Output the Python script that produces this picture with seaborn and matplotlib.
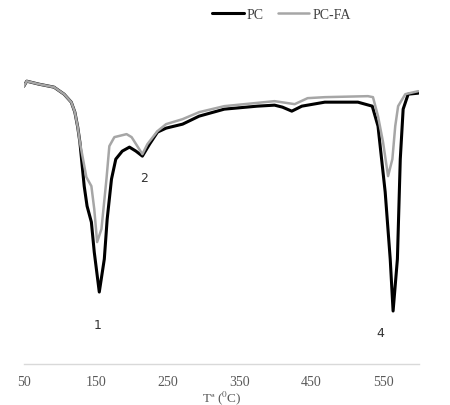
import pandas as pd
import matplotlib.pyplot as plt
import seaborn as sns

# Thermogram (signal in arbitrary units)
temp_pc = [50, 54, 71, 92, 106, 116, 121, 125, 128, 134, 138, 144, 148, 155, 162,
           166, 172, 178, 187, 197, 206, 215, 225, 236, 248, 271, 294, 329, 375,
           399, 410, 423, 437, 469, 515, 535, 543, 553, 560, 564, 570, 574, 578,
           585, 599]
signal_pc = [278, 283, 280, 277, 270, 262, 252, 237, 222, 178, 158, 142, 112, 72, 105,
             145, 185, 205, 213, 217, 213, 208, 220, 232, 236, 240, 248, 255, 258,
             259, 257, 253, 258, 262, 262, 258, 238, 172, 105, 53, 105, 205, 255,
             270, 271]

temp_fa = [50, 54, 71, 92, 106, 116, 121, 125, 128, 137, 144, 148, 152, 158, 165,
           169, 176, 193, 200, 215, 222, 236, 248, 271, 294, 329, 399, 427, 445,
           469, 529, 536, 543, 550, 557, 563, 567, 571, 581, 599]
signal_fa = [278, 283, 280, 277, 270, 262, 252, 237, 222, 187, 178, 155, 122, 135, 185,
             218, 227, 230, 227, 210, 220, 233, 240, 245, 252, 258, 263, 260, 266,
             267, 268, 267, 248, 222, 188, 205, 238, 258, 270, 273]

x_ticks = [50, 150, 250, 350, 450, 550]
peak_labels = ['1', '2', '4']
peak_temp = [152, 218, 546]
peak_signal = [40, 187, 32]

pc = pd.DataFrame({'T': temp_pc, 'signal': signal_pc})
fa = pd.DataFrame({'T': temp_fa, 'signal': signal_fa})

sns.set_theme(style='white')
plt.rcParams['font.family'] = ['Liberation Serif', 'DejaVu Serif']
plt.rcParams['mathtext.fontset'] = 'stix'

fig, ax = plt.subplots(figsize=(4.5, 4.06), dpi=100)
fig.subplots_adjust(left=0.053, right=0.931, bottom=0.101, top=0.901)

sns.lineplot(data=pc, x='T', y='signal', ax=ax, color='black', lw=2.2, label='PC')
sns.lineplot(data=fa, x='T', y='signal', ax=ax, color='#a6a6a6', lw=1.8, label='PC-FA')

for lab, t, s in zip(peak_labels, peak_temp, peak_signal):
    ax.text(t, s, lab, family='DejaVu Sans', fontsize=9, color='#333333',
            ha='center', va='center')

ax.set_xlim(50, 600)
ax.set_ylim(0, 325)
ax.set_xticks(x_ticks)
ax.set_yticks([])
ax.tick_params(axis='x', length=0, labelsize=10, labelcolor='#595959', pad=8)
ax.set_xlabel('Tª ($^{0}$C)', fontsize=9.5, color='#595959', labelpad=0)
ax.set_ylabel('')
for side in ['top', 'right', 'left']:
    ax.spines[side].set_visible(False)
ax.spines['bottom'].set_color('#d9d9d9')
ax.spines['bottom'].set_linewidth(1.0)

ax.legend_.remove()
handles, labels = ax.get_legend_handles_labels()
fig.legend(handles, labels, loc='center', bbox_to_anchor=(0.625, 0.963), ncol=2,
           frameon=False, fontsize=10, handlelength=2.3, handletextpad=0.2,
           columnspacing=1.0, labelcolor='#404040')

fig.savefig('out.png', dpi=100)
